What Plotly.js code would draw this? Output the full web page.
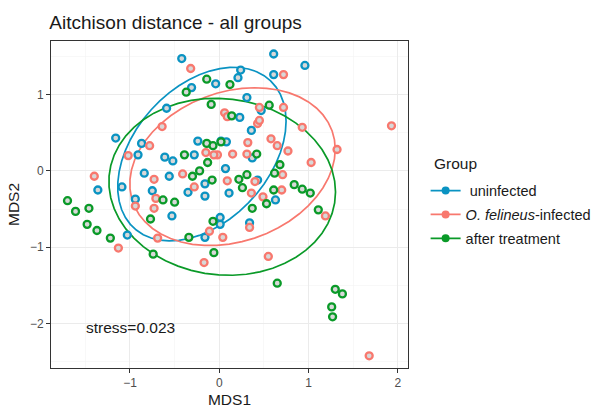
<!DOCTYPE html>
<html>
<head>
<meta charset="utf-8">
<script src="https://cdn.plot.ly/plotly-3.0.1.min.js"></script>
<style>html,body{margin:0;padding:0;background:#fff;}#chart{width:602px;height:412px;}</style>
</head>
<body>
<div id="chart"></div>
<script>
// ---- data (MDS coordinates) ----
const groupNames = [' uninfected', '<i>O. felineus</i>-infected', 'after treatment'];
const groupColors = ['#0A93C2', '#F8786E', '#0A9A28'];

const uninfX = [-0.42,0.61,0.96,0.61,0.24,0.21,-0.04,-0.31,0.31,0.47,0.23,0.36,0.02,0.08,-0.59,-1.16,-0.87,-0.24,-0.91,-0.61,-0.52,-0.28,-0.84,-0.56,-0.16,-1.09,-1.36,-0.75,-0.35,-0.16,-0.94,-0.53,-1.03,0.01,0.01,-0.16,0.07,0.11,0.63,0.34,0.37,0.43];
const uninfY = [1.47,1.53,1.38,1.26,1.32,1.22,1.14,1.09,0.96,0.79,0.70,0.53,0.39,0.38,0.82,0.43,0.36,0.39,0.21,0.18,0.13,0.21,-0.03,-0.07,-0.17,-0.21,-0.25,-0.26,-0.28,-0.33,-0.37,-0.59,-0.84,-0.61,-0.70,-0.87,0.03,-0.29,-0.38,-0.68,0.17,-0.12];

const infX = [-0.32,0.72,0.72,0.45,0.06,0.09,0.43,0.45,0.93,0.58,0.65,0.32,1.32,0.77,0.31,0.15,-0.02,-0.64,-0.78,-1.02,-0.15,-0.06,-1.40,-0.41,-0.73,-0.28,-0.71,-0.94,-0.73,-1.13,-0.69,-0.11,0.04,-0.17,0.55,1.68,1.93,1.03,1.19,0.71,0.09,0.40,0.36,0.70,0.49,0.34];
const infY = [1.34,1.26,0.83,0.83,0.76,0.71,0.62,0.66,0.57,0.42,0.33,0.37,0.28,0.26,0.22,0.22,0.21,0.58,0.33,0.20,0.24,0.21,-0.07,-0.04,-0.11,-0.21,-0.36,-0.46,-0.49,-1.01,-0.88,-0.79,-0.87,-1.20,-1.12,-2.42,0.59,0.11,-0.59,-0.05,-0.13,-0.14,-0.29,-0.25,-0.34,-0.74];

const treatX = [-0.14,0.12,-0.37,-0.09,0.56,0.14,-0.14,-0.07,0.02,-0.39,-0.13,0.42,-0.22,-0.30,-0.08,-0.63,-0.50,-0.77,-1.37,-1.22,-0.07,-0.34,-0.74,-0.06,-1.70,-1.61,-1.46,-1.48,0.68,0.62,0.31,0.22,0.26,0.84,0.93,1.02,0.61,0.53,0.37,1.11,0.65,1.30,1.38,1.26,1.27];
const treatY = [1.20,1.13,1.03,0.87,0.86,0.72,0.36,0.33,0.38,0.21,0.11,0.22,0.00,-0.07,-0.12,-0.38,-0.41,-0.63,-0.78,-0.88,-0.66,-0.87,-1.09,-1.07,-0.39,-0.53,-0.49,-0.70,0.08,-0.03,-0.05,-0.11,-0.22,-0.18,-0.24,-0.29,-0.25,-0.43,-0.49,-0.51,-1.47,-1.55,-1.61,-1.78,-1.91];

const stressLabel = 'stress=0.023';
const legendTitle = 'Group';
const ellipseLevel = 0.8;

// ---- stat_ellipse (type "t") as in ggplot2 ----
function covTrob(xs, ys, nu, maxit, tol) {
  const n = xs.length, p = 2;
  let w = new Array(n).fill(1);
  let loc = [xs.reduce((a,b)=>a+b,0)/n, ys.reduce((a,b)=>a+b,0)/n];
  let dx = [], dy = [];
  for (let it = 0; it < maxit; it++) {
    const w0 = w.slice();
    dx = xs.map(v => v - loc[0]);
    dy = ys.map(v => v - loc[1]);
    const sw = w.reduce((a,b)=>a+b,0);
    let sxx=0, sxy=0, syy=0;
    for (let i=0;i<n;i++){ sxx+=w[i]*dx[i]*dx[i]; sxy+=w[i]*dx[i]*dy[i]; syy+=w[i]*dy[i]*dy[i]; }
    sxx/=sw; sxy/=sw; syy/=sw;
    const det = sxx*syy - sxy*sxy;
    const ixx = syy/det, ixy = -sxy/det, iyy = sxx/det;
    w = dx.map((a,i) => {
      const b = dy[i];
      const Q = a*a*ixx + 2*a*b*ixy + b*b*iyy;
      return (nu + p) / (nu + Q);
    });
    const sw2 = w.reduce((a,b)=>a+b,0);
    loc = [xs.reduce((a,v,i)=>a+w[i]*v,0)/sw2, ys.reduce((a,v,i)=>a+w[i]*v,0)/sw2];
    if (w.every((v,i)=>Math.abs(v-w0[i]) < tol)) break;
  }
  let cxx=0, cxy=0, cyy=0;
  for (let i=0;i<n;i++){ cxx+=w[i]*dx[i]*dx[i]; cxy+=w[i]*dx[i]*dy[i]; cyy+=w[i]*dy[i]*dy[i]; }
  return {center: loc, cov: [cxx/n, cxy/n, cyy/n]};
}
function ellipse(xs, ys, level) {
  const n = xs.length;
  const {center, cov} = covTrob(xs, ys, 5, 25, 0.01);
  const d = n - 1;
  const qf = (d/2) * (Math.pow(1 - level, -2/d) - 1);
  const radius = Math.sqrt(2 * qf);
  const a = Math.sqrt(cov[0]), b = cov[1]/a, c = Math.sqrt(cov[2] - b*b);
  const ex = [], ey = [];
  const seg = 51;
  for (let k=0;k<=seg;k++){
    const t = k*2*Math.PI/seg;
    const u = Math.cos(t), v = Math.sin(t);
    ex.push(center[0] + radius*(u*a));
    ey.push(center[1] + radius*(u*b + v*c));
  }
  return {x: ex, y: ey};
}

const groups = [[uninfX, uninfY], [infX, infY], [treatX, treatY]];
const traces = [];
groups.forEach((g, i) => {
  const e = ellipse(g[0], g[1], ellipseLevel);
  traces.push({x: e.x, y: e.y, type: 'scatter', mode: 'lines', showlegend: false,
    hoverinfo: 'skip', line: {color: groupColors[i], width: 1.7}});
});
groups.forEach((g, i) => {
  traces.push({x: g[0], y: g[1], type: 'scatter', mode: 'markers', showlegend: false,
    marker: {symbol: 'circle', size: 7, color: '#d8d8d8', line: {color: groupColors[i], width: 2.3}}});
});
groups.forEach((g, i) => {
  traces.push({x: [null], y: [null], type: 'scatter', mode: 'lines+markers', name: groupNames[i],
    legendgroup: 'g' + i, line: {color: groupColors[i], width: 1.7},
    marker: {color: groupColors[i], size: 8}});
});

const FONT = 'Liberation Sans, Arial, sans-serif';
const axisCommon = {
  showgrid: true, gridcolor: '#ebebeb', gridwidth: 1,
  zeroline: false, showline: true, mirror: true, linecolor: '#333333', linewidth: 1,
  ticks: 'outside', ticklen: 4, tickcolor: '#333333', tickwidth: 1,
  tickfont: {family: FONT, size: 12, color: '#4d4d4d'},
  minor: {dtick: 0.5, showgrid: true, gridcolor: '#f3f3f3', gridwidth: 0.6, ticks: ''}
};

const layout = {
  width: 602, height: 412,
  margin: {l: 51, r: 194, t: 41, b: 44, autoexpand: false},
  paper_bgcolor: '#ffffff', plot_bgcolor: '#ffffff',
  font: {family: FONT, color: '#1a1a1a'},
  title: {text: 'Aitchison distance - all groups', x: 0.082, xref: 'container', xanchor: 'left',
    y: 0.945, yref: 'container', yanchor: 'middle',
    font: {family: FONT, size: 19, color: '#1a1a1a'}},
  xaxis: Object.assign({}, axisCommon, {range: [-1.885, 2.115], dtick: 1, tick0: 0,
    title: {text: 'MDS1', standoff: 4, font: {size: 15.5, color: '#1a1a1a'}}}),
  yaxis: Object.assign({}, axisCommon, {range: [-2.58, 1.70], dtick: 1, tick0: 0,
    title: {text: 'MDS2', standoff: 6, font: {size: 15.5, color: '#1a1a1a'}}}),
  showlegend: true,
  legend: {x: 0.707, xref: 'container', xanchor: 'left', y: 0.576, yref: 'container', yanchor: 'top',
    font: {size: 14.5, color: '#1a1a1a'}, traceorder: 'grouped', tracegroupgap: 2,
    itemwidth: 30, bgcolor: 'rgba(0,0,0,0)'},
  annotations: [
    {x: -1.52, y: -2.05, xref: 'x', yref: 'y', text: stressLabel, showarrow: false,
      xanchor: 'left', yanchor: 'middle', font: {size: 15.5, color: '#1a1a1a'}},
    {x: 1.067, y: 0.624, xref: 'paper', yref: 'paper', text: legendTitle, showarrow: false,
      xanchor: 'left', yanchor: 'middle', font: {size: 15.5, color: '#1a1a1a'}}
  ]
};

Plotly.newPlot('chart', traces, layout, {displayModeBar: false, staticPlot: true});
</script>
</body>
</html>
